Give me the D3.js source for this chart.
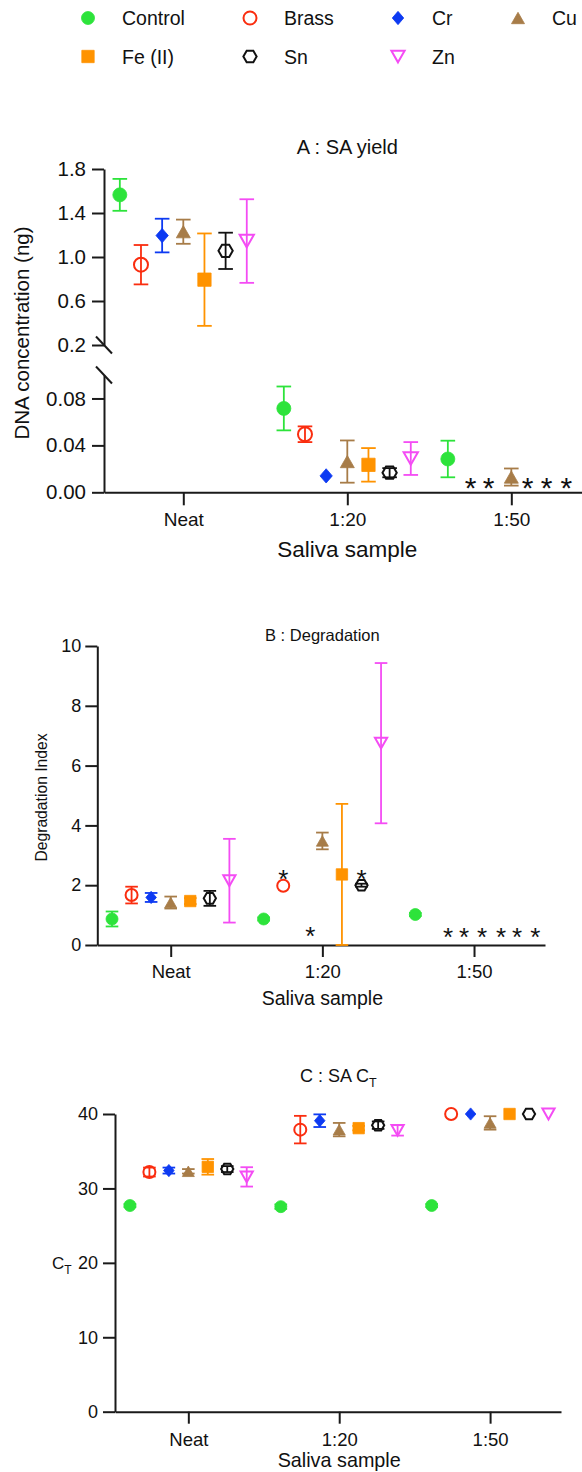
<!DOCTYPE html>
<html><head><meta charset="utf-8">
<script src="https://cdn.jsdelivr.net/npm/d3@7"></script>
<style>
body{margin:0;background:#fff;}
svg{display:block;}
</style></head><body>
<svg id="c" width="582" height="1472"></svg>
<script>
// ---------------- DATA ----------------
const series = ["Control","Brass","Cr","Cu","Fe (II)","Sn","Zn"];
const groups = ["Neat","1:20","1:50"];

// Panel A : SA yield (ng) — mean and error per series [Neat, 1:20, 1:50]
const yieldMean = [
  [1.565, 0.0715, 0.0284],
  [0.930, 0.0495, null],
  [1.195, 0.0140, null],
  [1.230, 0.0262, 0.0130],
  [0.794, 0.0234, null],
  [1.056, 0.0167, null],
  [1.145, 0.0288, null]
];
const yieldErr = [
  [0.145, 0.0187, 0.0156],
  [0.179, 0.0067, null],
  [0.153, 0.0000, null],
  [0.110, 0.0180, 0.0073],
  [0.420, 0.0143, null],
  [0.165, 0.0039, null],
  [0.380, 0.0140, null]
];
const yieldUpperTicks = [0.2, 0.6, 1.0, 1.4, 1.8];
const yieldLowerTicks = [0, 0.04, 0.08];
// asterisks (no value): [slot position, group index, value]
const yieldStars = [[1.08,2,0.010],[1.93,2,0.010],[3.77,2,0.010],[4.67,2,0.010],[5.6,2,0.010]];

// Panel B : Degradation index
const degMean = [
  [0.87, 0.87, 1.02],
  [1.67, 1.98, null],
  [1.59, null, null],
  [1.42, 3.48, null],
  [1.47, 2.36, null],
  [1.56, 2.00, null],
  [2.15, 6.75, null]
];
const degErr = [
  [0.25, 0.05, 0.05],
  [0.28, 0.00, null],
  [0.15, null, null],
  [0.20, 0.28, null],
  [0.10, 2.36, null],
  [0.25, 0.05, null],
  [1.40, 2.68, null]
];
const degTicks = [0, 2, 4, 6, 8, 10];
const degStars = [[1,1,2.41],[2.38,1,0.50],[5,1,2.40],
  [1.67,2,0.48],[2.49,2,0.48],[3.41,2,0.48],[4.38,2,0.48],[5.2,2,0.48],[6.13,2,0.48]];

// Panel C : SA CT
const ctMean = [
  [27.70, 27.55, 27.70],
  [32.20, 37.90, 40.00],
  [32.40, 39.10, 40.00],
  [32.30, 37.90, 38.80],
  [32.90, 38.10, 40.00],
  [32.60, 38.50, 40.00],
  [31.55, 37.80, 40.00]
];
const ctErr = [
  [0.20, 0.30, 0.20],
  [0.60, 1.85, 0.00],
  [0.40, 0.85, 0.00],
  [0.30, 0.90, 0.90],
  [1.05, 0.30, 0.00],
  [0.40, 0.50, 0.00],
  [1.30, 0.70, 0.00]
];
const ctTicks = [0, 10, 20, 30, 40];

// ---------------- STYLE ----------------
const FONT = '"Liberation Sans", Arial, Helvetica, sans-serif';
const colors = ["#2de33b","#fa2d0f","#0d3af2","#a77c48","#ff9300","#111111","#f44cf4"];
const shapes = ["circle","circleOpen","diamond","triUp","square","hexOpen","triDownOpen"];
const OFF = 0.129;
const INK = "#1a1a1a";

function symPath(type, s){
  switch(type){
    case "circle": case "circleOpen":
      return `M${s},0A${s},${s},0,1,1,${-s},0A${s},${s},0,1,1,${s},0Z`;
    case "square": { const h=s*0.95; return `M${-h},${-h}H${h}V${h}H${-h}Z`; }
    case "diamond": return `M0,${-s*1.02}L${s*0.88},0L0,${s*1.02}L${-s*0.88},0Z`;
    case "triUp": { const w=s*1.0, H=s*1.75; return `M0,${-H/2}L${w},${H/2}L${-w},${H/2}Z`; }
    case "triDownOpen": { const w=s*1.02, H=s*1.8; return `M0,${H/2}L${w},${-H/2}L${-w},${-H/2}Z`; }
    case "hexOpen": { const a=s*1.02, b=s*0.88; return `M${a},0L${a/2},${b}L${-a/2},${b}L${-a},0L${-a/2},${-b}L${a/2},${-b}Z`; }
  }
}
function isOpen(t){ return t.endsWith("Open"); }

function drawMarker(sel, si, s){
  const t = shapes[si];
  sel.append("path").attr("d", symPath(t, s))
    .attr("fill", isOpen(t) ? "none" : colors[si])
    .attr("stroke", colors[si])
    .attr("stroke-width", isOpen(t) ? 2 : 0.8);
}

const svg = d3.select("#c");

// ---------------- LEGEND ----------------
const legendCols = [88, 250, 398, 518];
const legendRows = [18, 56.5];
const legendPos = [[0,0],[1,0],[2,0],[3,0],[0,1],[1,1],[2,1]];
const lg = svg.append("g");
series.forEach((name, si) => {
  const [c, r] = legendPos[si];
  const item = lg.append("g").attr("transform", `translate(${legendCols[c]},${legendRows[r]})`);
  drawMarker(item, si, 6.5);
  item.append("text").attr("x", 34).attr("y", 7).text(name)
    .attr("font-family", FONT).attr("font-size", 19.5).attr("fill", "#111");
});

// ---------------- helpers ----------------
function styleAxis(g, fs){
  g.attr("font-family", FONT).attr("font-size", fs);
  g.select(".domain").attr("stroke", INK).attr("stroke-width", 2);
  g.selectAll(".tick line").attr("stroke", INK).attr("stroke-width", 2);
  g.selectAll(".tick text").attr("fill", "#111");
}

function buildRecords(means, errs){
  const recs = [];
  series.forEach((n, si) => groups.forEach((gname, gi) => {
    const m = means[si][gi];
    if (m == null) return;
    recs.push({si, gi, m, e: errs[si][gi] || 0});
  }));
  return recs;
}

function drawPoints(root, x, yOf, means, errs, s, cap, floor){
  const recs = buildRecords(means, errs);
  const pts = root.append("g").selectAll("g").data(recs).join("g")
    .attr("transform", d => `translate(${x(d.gi + (d.si-3)*OFF)},${yOf(d.m, d.m)})`);
  pts.each(function(d){
    const g = d3.select(this);
    if (d.e > 0){
      const yc = yOf(d.m, d.m);
      const y1 = yOf(d.m + d.e, d.m) - yc;
      const y2 = yOf(Math.max(d.m - d.e, floor), d.m) - yc;
      const eg = g.append("g").attr("stroke", colors[d.si]).attr("stroke-width", 1.8);
      eg.append("line").attr("x1",0).attr("x2",0).attr("y1",y1).attr("y2",y2);
      eg.append("line").attr("x1",-cap).attr("x2",cap).attr("y1",y1).attr("y2",y1);
      eg.append("line").attr("x1",-cap).attr("x2",cap).attr("y1",y2).attr("y2",y2);
    }
    drawMarker(g, d.si, s);
  });
}

function drawStars(root, x, yOf, stars, fs){
  root.append("g").selectAll("text").data(stars).join("text")
    .attr("x", d => x(d[1] + (d[0]-3)*OFF))
    .attr("y", d => yOf(d[2], d[2]) + fs*0.58)
    .attr("text-anchor", "middle")
    .attr("font-family", FONT).attr("font-size", fs).attr("fill", "#111")
    .text("*");
}

// ---------------- PANEL A ----------------
{
  const gA = svg.append("g");
  const x = d3.scaleLinear().domain([-0.4835, 2.431]).range([104, 582]);
  const yUp = d3.scaleLinear().domain([0.2, 1.8]).range([345, 169]);
  const yLo = d3.scaleLinear().domain([0, 0.1]).range([492.3, 375]);
  const yOf = (v, ref) => ref >= 0.15 ? yUp(v) : yLo(v);

  const axU = gA.append("g").attr("transform", "translate(104,0)")
    .call(d3.axisLeft(yUp).tickValues(yieldUpperTicks).tickFormat(d3.format(".1f")).tickSize(12).tickSizeOuter(0).tickPadding(6));
  styleAxis(axU, 20.5);
  const axL = gA.append("g").attr("transform", "translate(104,0)")
    .call(d3.axisLeft(yLo).tickValues(yieldLowerTicks).tickFormat(d3.format(".2f")).tickSize(12).tickSizeOuter(0).tickPadding(6));
  styleAxis(axL, 20.5);
  // axis break marks
  [yUp(0.2), yLo(0.1)].forEach(yy => {
    gA.append("line").attr("x1", 104-8).attr("y1", yy-8.5).attr("x2", 104+8).attr("y2", yy+8.5)
      .attr("stroke", INK).attr("stroke-width", 2);
  });
  const axX = gA.append("g").attr("transform", `translate(0,${yLo(0)})`)
    .call(d3.axisBottom(x).tickValues([0,1,2]).tickFormat(i => groups[i]).tickSize(13).tickSizeOuter(0).tickPadding(7));
  styleAxis(axX, 19);

  drawPoints(gA, x, yOf, yieldMean, yieldErr, 7, 7.3, 0);
  drawStars(gA, x, yOf, yieldStars, 30);

  gA.append("text").attr("x", x(1)).attr("y", 154).attr("text-anchor","middle")
    .attr("font-family", FONT).attr("font-size", 20).attr("fill","#111").text("A : SA yield");
  gA.append("text").attr("x", x(1)).attr("y", 557).attr("text-anchor","middle")
    .attr("font-family", FONT).attr("font-size", 22.5).attr("fill","#111").text("Saliva sample");
  gA.append("text").attr("transform", "translate(22,333) rotate(-90)").attr("dy","0.35em")
    .attr("text-anchor","middle").attr("font-family", FONT).attr("font-size", 20.5).attr("fill","#111")
    .text("DNA concentration (ng)");
}

// ---------------- PANEL B ----------------
{
  const gB = svg.append("g");
  const x = d3.scaleLinear().domain([-0.484, 2.468]).range([97.3, 545]);
  const y = d3.scaleLinear().domain([0, 10]).range([945, 646]);
  const yOf = v => y(v);
  const axY = gB.append("g").attr("transform", "translate(97.3,0)")
    .call(d3.axisLeft(y).tickValues(degTicks).tickSize(12).tickSizeOuter(0).tickPadding(4));
  styleAxis(axY, 18);
  const axX = gB.append("g").attr("transform", `translate(0,${y(0)})`)
    .call(d3.axisBottom(x).tickValues([0,1,2]).tickFormat(i => groups[i]).tickSize(12).tickSizeOuter(0).tickPadding(8));
  styleAxis(axX, 18.5);

  drawPoints(gB, x, yOf, degMean, degErr, 6, 6.3, 0);
  drawStars(gB, x, yOf, degStars, 26);

  gB.append("text").attr("x", x(1)).attr("y", 640.7).attr("text-anchor","middle")
    .attr("font-family", FONT).attr("font-size", 16.5).attr("fill","#111").text("B : Degradation");
  gB.append("text").attr("x", x(1)).attr("y", 1005).attr("text-anchor","middle")
    .attr("font-family", FONT).attr("font-size", 19.5).attr("fill","#111").text("Saliva sample");
  gB.append("text").attr("transform", "translate(41.7,797.5) rotate(-90)").attr("dy","0.35em")
    .attr("text-anchor","middle").attr("font-family", FONT).attr("font-size", 15.7).attr("fill","#111")
    .text("Degradation Index");
}

// ---------------- PANEL C ----------------
{
  const gC = svg.append("g");
  const x = d3.scaleLinear().domain([-0.486, 2.47]).range([115, 561]);
  const y = d3.scaleLinear().domain([0, 40]).range([1411.7, 1114]);
  const yOf = v => y(v);
  const axY = gC.append("g").attr("transform", "translate(115,0)")
    .call(d3.axisLeft(y).tickValues(ctTicks).tickSize(12).tickSizeOuter(0).tickPadding(5));
  styleAxis(axY, 18);
  const axX = gC.append("g").attr("transform", `translate(0,${y(0)})`)
    .call(d3.axisBottom(x).tickValues([0,1,2]).tickFormat(i => groups[i]).tickSize(12).tickSizeOuter(0).tickPadding(9));
  styleAxis(axX, 18.5);

  drawPoints(gC, x, yOf, ctMean, ctErr, 6, 6.3, 0);

  const t = gC.append("text").attr("x", 300).attr("y", 1081.7)
    .attr("font-family", FONT).attr("font-size", 18).attr("fill","#111");
  t.append("tspan").text("C : SA C");
  t.append("tspan").attr("font-size", 12.5).attr("dy", 5).text("T");
  gC.append("text").attr("x", x(1)).attr("y", 1467).attr("text-anchor","middle")
    .attr("font-family", FONT).attr("font-size", 19.8).attr("fill","#111").text("Saliva sample");
  const yl = gC.append("text").attr("x", 52).attr("y", 1268.5)
    .attr("font-family", FONT).attr("font-size", 17).attr("fill","#111");
  yl.append("tspan").text("C");
  yl.append("tspan").attr("font-size", 12).attr("dy", 5).text("T");
}
</script>
</body></html>
